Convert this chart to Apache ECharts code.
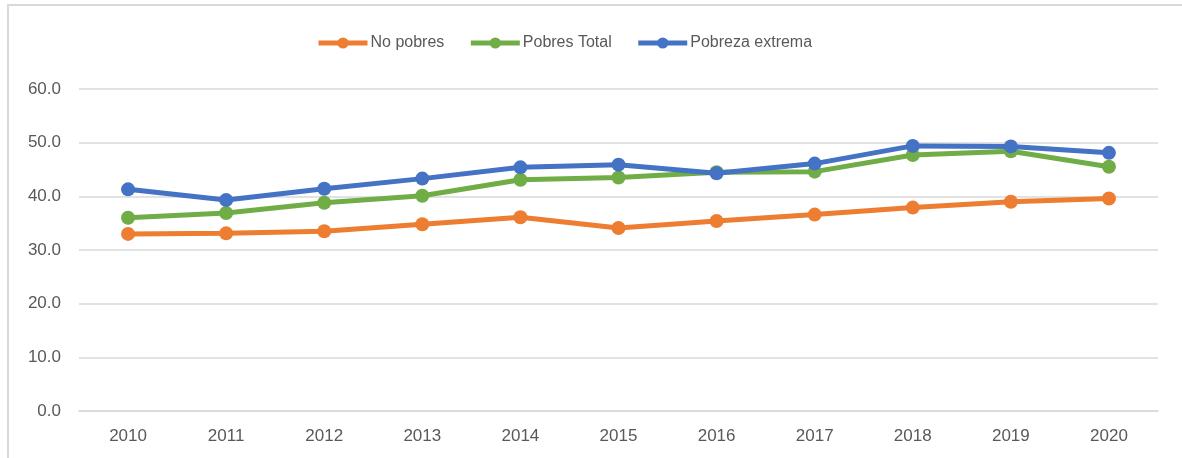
<!DOCTYPE html>
<html>
<head>
<meta charset="utf-8">
<style>
  html, body { margin: 0; padding: 0; background: #ffffff; }
  #chart { width: 1182px; height: 458px; }
</style>
<script src="https://cdn.jsdelivr.net/npm/echarts@6/dist/echarts.min.js"></script>
</head>
<body>
<div id="chart"></div>
<script>
// Years on the horizontal axis
const years = ['2010', '2011', '2012', '2013', '2014', '2015', '2016', '2017', '2018', '2019', '2020'];

// Percentages per group
const noPobres = [33.0, 33.1, 33.5, 34.8, 36.1, 34.1, 35.4, 36.6, 37.9, 39.0, 39.6];
const pobresTotal = [36.0, 36.9, 38.8, 40.1, 43.1, 43.5, 44.5, 44.6, 47.7, 48.4, 45.5];
const pobrezaExtrema = [41.3, 39.3, 41.4, 43.3, 45.4, 45.9, 44.3, 46.1, 49.4, 49.3, 48.1];

const seriesNames = ['No pobres', 'Pobres Total', 'Pobreza extrema'];
const seriesColors = ['#ED7D31', '#70AD47', '#4472C4'];
const seriesData = [noPobres, pobresTotal, pobrezaExtrema];

const FONT = '"Liberation Sans", Arial, sans-serif';
const TEXT = '#595959';
const GRID_LINE = '#d9d9d9';

const chart = echarts.init(document.getElementById('chart'), null, { renderer: 'canvas' });

chart.setOption({
  animation: false,
  backgroundColor: '#ffffff',
  graphic: [{
    type: 'rect',
    shape: { x: 8, y: 5, width: 1200, height: 480 },
    style: { fill: 'none', stroke: GRID_LINE, lineWidth: 2 },
    silent: true,
    z: -10
  }],
  legend: {
    top: 30,
    left: 311,
    itemWidth: 49,
    itemHeight: 14,
    itemGap: 24,
    lineStyle: { width: 5 },
    textStyle: { color: TEXT, fontFamily: FONT, fontSize: 16, padding: [0, 0, 0, -2] },
    data: seriesNames
  },
  grid: { left: 79, right: 24, top: 89, bottom: 47, containLabel: false },
  xAxis: {
    type: 'category',
    data: years,
    boundaryGap: true,
    axisLine: { show: true, lineStyle: { color: GRID_LINE, width: 1.5 } },
    axisTick: { show: false },
    axisLabel: { color: TEXT, fontFamily: FONT, fontSize: 17, margin: 17 }
  },
  yAxis: {
    type: 'value',
    min: 0,
    max: 60,
    interval: 10,
    axisLine: { show: false },
    axisTick: { show: false },
    splitLine: { lineStyle: { color: GRID_LINE, width: 1.5 } },
    axisLabel: {
      color: TEXT, fontFamily: FONT, fontSize: 17, margin: 18,
      formatter: v => v.toFixed(1)
    }
  },
  series: seriesNames.map((name, i) => ({
    name,
    type: 'line',
    data: seriesData[i],
    symbol: 'circle',
    symbolSize: 14,
    showSymbol: true,
    lineStyle: { width: 5, color: seriesColors[i] },
    itemStyle: { color: seriesColors[i] },
    z: 2 + i
  }))
});
</script>
</body>
</html>
